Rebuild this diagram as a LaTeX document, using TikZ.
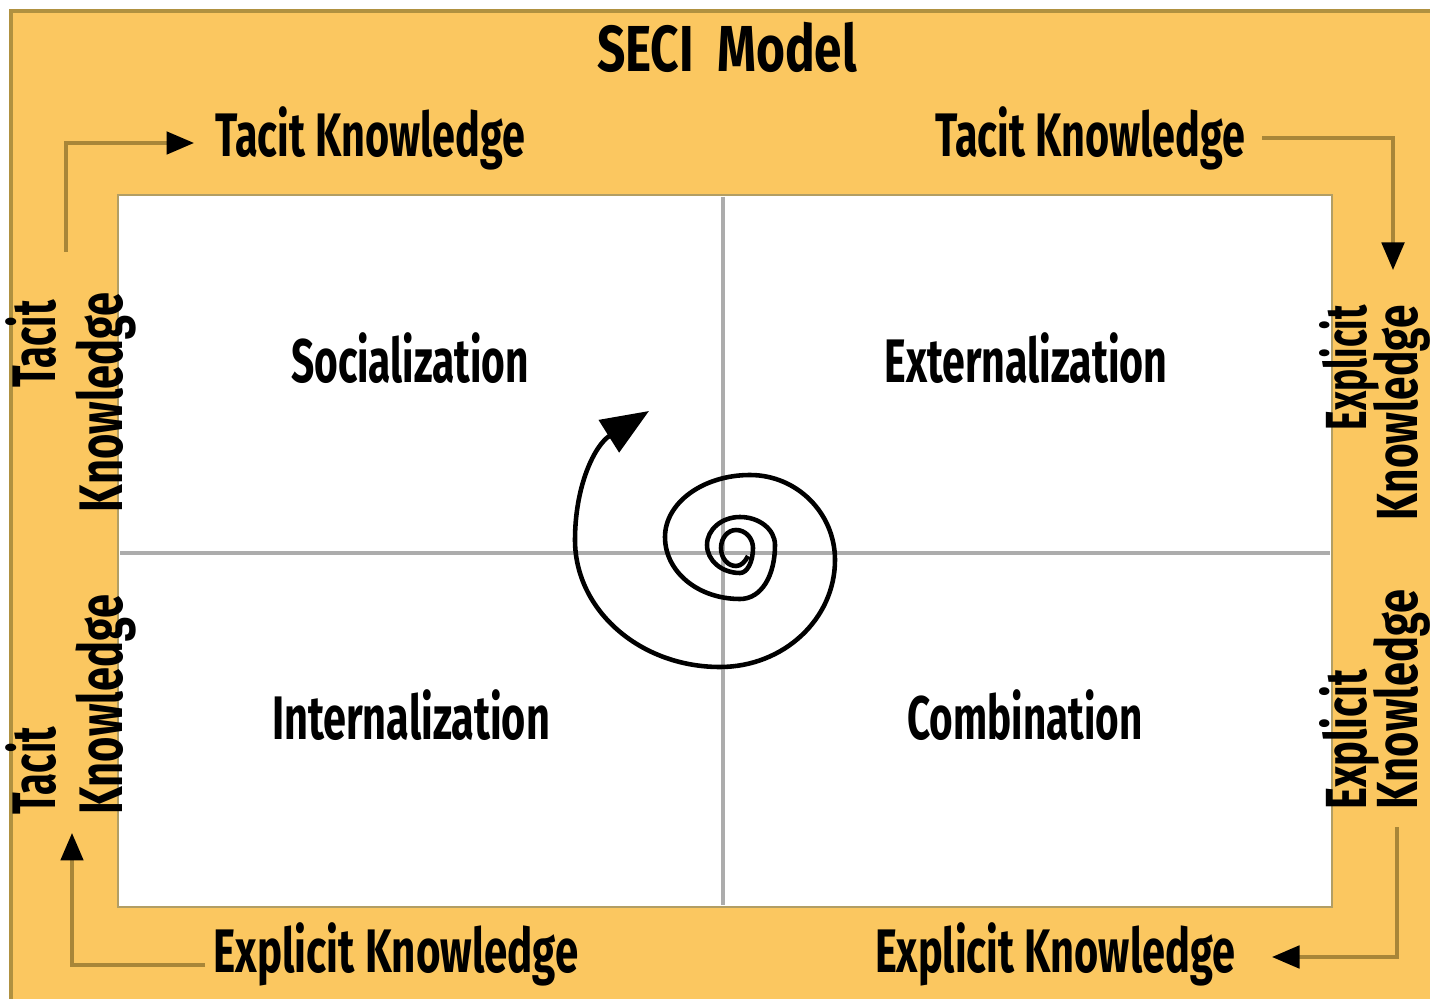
\documentclass[tikz,border=0pt]{standalone}
\usepackage{fontspec}
\usepackage{graphicx}
\setmainfont{Fira Sans}
\usetikzlibrary{arrows.meta}
\definecolor{bgorange}{RGB}{251,199,96}
\definecolor{edgeolive}{RGB}{176,145,64}
\definecolor{connolive}{RGB}{168,134,56}
\definecolor{paneledge}{RGB}{178,158,100}
\definecolor{divgray}{RGB}{172,172,172}
\newcommand{\lbl}[3]{\resizebox{#1}{\height}{\fontsize{#2}{#2}\selectfont\bfseries #3}}
\tikzset{
  conn/.style={draw=connolive, line width=2pt, -{Triangle[length=0.55cm,width=0.45cm,fill=black,color=black]}},
  spiralline/.style={draw=black, line width=2.6pt, -{Triangle[length=0.95cm,width=0.75cm]}},
  divider/.style={draw=divgray, line width=2pt},
  lab/.style={inner sep=0pt, text=black},
}
\begin{document}
\begin{tikzpicture}[x=0.02cm, y=-0.02cm]
\useasboundingbox (0,0) rectangle (1430,999);
\clip (0,0) rectangle (1430,999);
% background
\fill[white] (0,0) rectangle (1430,999);
\fill[bgorange] (10,10) rectangle (1432,1001);
\draw[edgeolive, line width=2.5pt] (11,1001) -- (11,11) -- (1432,11);
% white panel
\fill[white] (118,195) rectangle (1332,907);
\draw[paneledge, line width=1.4pt] (118,195) rectangle (1332,907);
% dividers
\draw[divider] (723,197) -- (723,905);
\draw[divider] (120,553) -- (1330,553);
% title
\node[lab] (title) at (727,47) {\lbl{5.2cm}{37pt}{SECI\ \ Model}};
% top / bottom labels
\node[lab, anchor=base] (tTL) at (370,157) {\lbl{6.2cm}{35pt}{Tacit Knowledge}};
\node[lab, anchor=base] (tTR) at (1090,157) {\lbl{6.2cm}{35pt}{Tacit Knowledge}};
\node[lab, anchor=base] (eBL) at (396,972) {\lbl{7.3cm}{35pt}{Explicit Knowledge}};
\node[lab, anchor=base] (eBR) at (1055,972) {\lbl{7.2cm}{35pt}{Explicit Knowledge}};
% quadrant labels
\node[lab, anchor=base] (soc) at (410,383) {\lbl{4.76cm}{35pt}{Socialization}};
\node[lab, anchor=base] (ext) at (1026,383) {\lbl{5.66cm}{35pt}{Externalization}};
\node[lab, anchor=base] (int) at (411,740) {\lbl{5.56cm}{35pt}{Internalization}};
\node[lab, anchor=base] (com) at (1025,740) {\lbl{4.7cm}{35pt}{Combination}};
% vertical labels, left
\node[lab, rotate=90, anchor=base east] (lt1) at (55,300) {\lbl{1.75cm}{35pt}{Tacit}};
\node[lab, rotate=90, anchor=base east] (lt2) at (122,292) {\lbl{4.4cm}{35pt}{Knowledge}};
\node[lab, rotate=90, anchor=base west] (lb1) at (55,815) {\lbl{1.75cm}{35pt}{Tacit}};
\node[lab, rotate=90, anchor=base west] (lb2) at (122,815) {\lbl{4.4cm}{35pt}{Knowledge}};
% vertical labels, right
\node[lab, rotate=90, anchor=base east] (rt1) at (1366,305) {\lbl{2.5cm}{33pt}{Explicit}};
\node[lab, rotate=90, anchor=base east] (rt2) at (1417,305) {\lbl{4.3cm}{33pt}{Knowledge}};
\node[lab, rotate=90, anchor=base west] (rb1) at (1366,810) {\lbl{2.8cm}{33pt}{Explicit}};
\node[lab, rotate=90, anchor=base west] (rb2) at (1417,810) {\lbl{4.4cm}{33pt}{Knowledge}};
% corner connectors
\coordinate (tlA) at (66,252);
\coordinate (tlB) at (194,143);
\coordinate (trA) at (1262,138);
\coordinate (trB) at (1393,270);
\coordinate (brA) at (1397,827);
\coordinate (brB) at (1272,957);
\coordinate (blA) at (205,965);
\coordinate (blB) at (72,833);
\draw[conn] (tlA) |- (tlB);
\draw[conn] (trA) -| (trB);
\draw[conn] (brA) |- (brB);
\draw[conn] (blA) -| (blB);
% spiral
\coordinate (spS) at (748,556);
\coordinate (spE) at (649,411);
\draw[spiralline] (spS) .. controls (745,562) and (741,566) .. (736,566)
 .. controls (727.7,566) and (721,558.4) .. (721,548)
 .. controls (721,538.1) and (727.7,530) .. (736,530)
 .. controls (745.4,530) and (753,538.1) .. (753,548)
 .. controls (753,561.8) and (747.2,573) .. (740,573)
 .. controls (721.8,573) and (707,560.5) .. (707,545)
 .. controls (707,529.5) and (721.8,517) .. (740,517)
 .. controls (759.3,517) and (775,529.5) .. (775,545)
 .. controls (775,575.4) and (761.6,599) .. (740,599)
 .. controls (698,599) and (665,571.8) .. (665,537)
 .. controls (665,502.8) and (703.1,475) .. (750,475)
 .. controls (796.9,475) and (835,513.1) .. (835,560)
 .. controls (835,619.1) and (783.5,667) .. (720,667)
 .. controls (639.9,667) and (575,610.1) .. (575,540)
 .. controls (575,485) and (595,445) .. (spE);
\end{tikzpicture}
\end{document}
